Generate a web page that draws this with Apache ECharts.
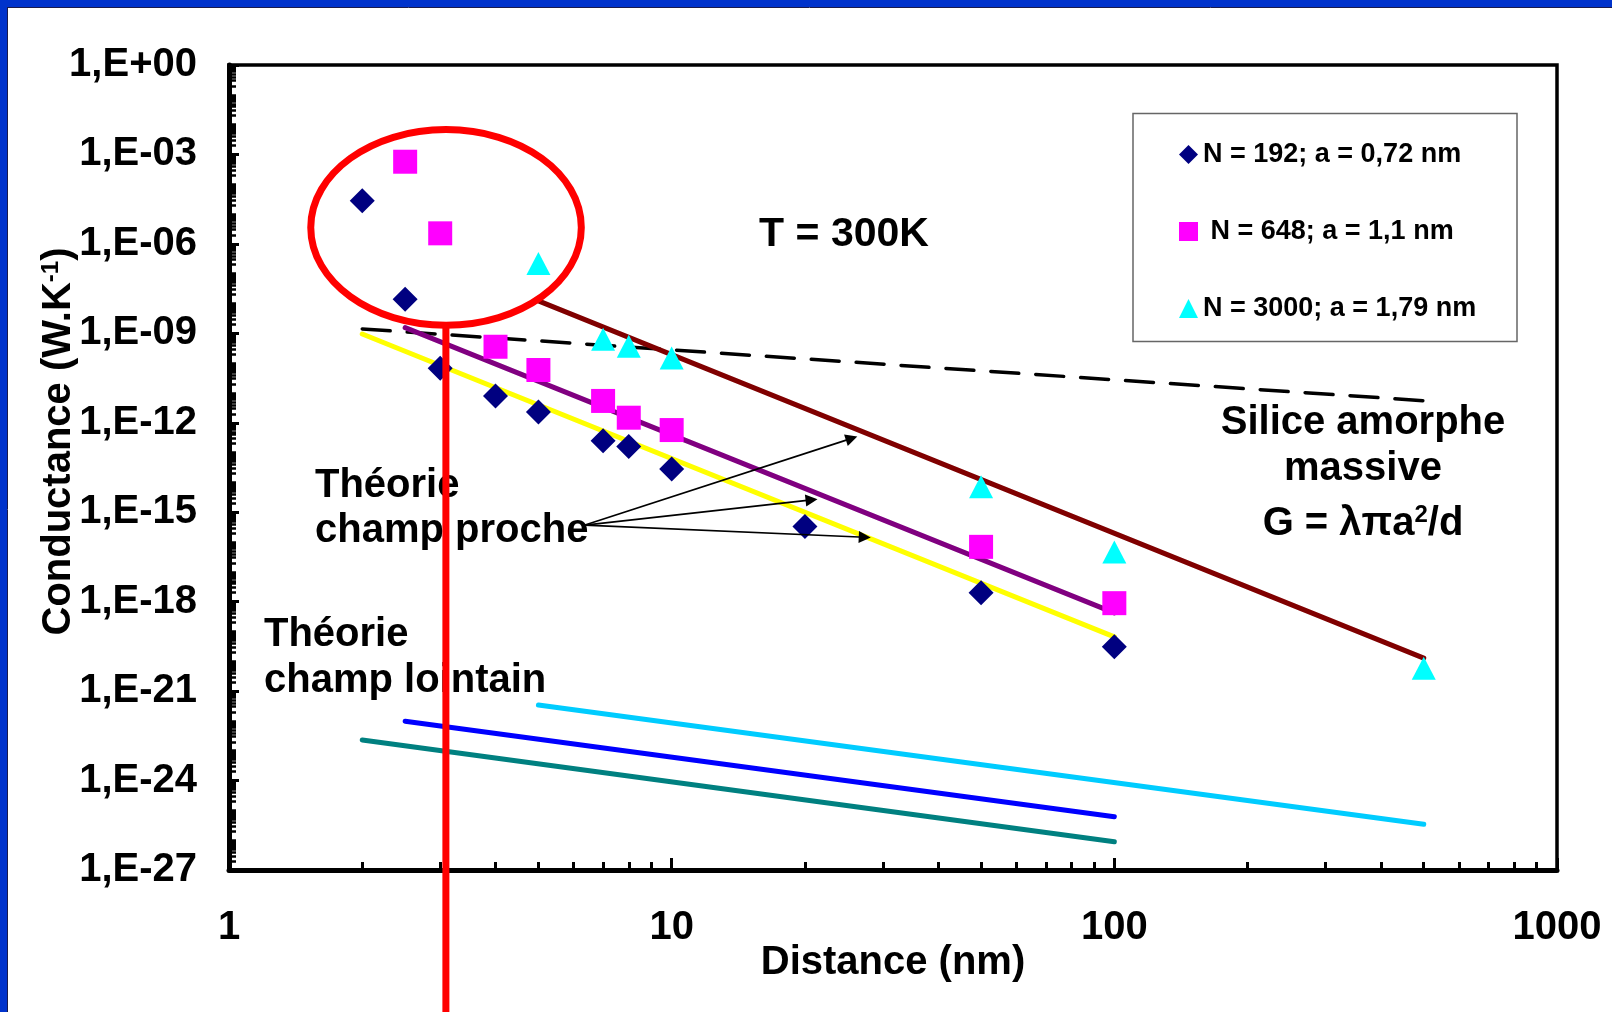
<!DOCTYPE html>
<html><head><meta charset="utf-8">
<script src="https://cdn.jsdelivr.net/npm/echarts@6/dist/echarts.min.js"></script>
<style>html,body{margin:0;padding:0;background:#fff;overflow:hidden}#c{width:1612px;height:1012px}</style>
</head><body><div id="c"></div><script>
// ---------- data ----------
const n192Name = 'N = 192; a = 0,72 nm';
const n192Dist = [2, 2.5, 3, 4, 5, 7, 8, 10, 20, 50, 100];
const n192G    = [2.8e-5, 1.4e-8, 6.7e-11, 7.9e-12, 2.3e-12, 2.5e-13, 1.6e-13, 2.8e-14, 3.3e-16, 2.0e-18, 3.1e-20];

const n648Name = ' N = 648; a = 1,1 nm';
const n648Dist = [2.5, 3, 4, 5, 7, 8, 10, 50, 100];
const n648G    = [5.7e-4, 2.26e-6, 3.55e-10, 5.9e-11, 5.4e-12, 1.48e-12, 5.7e-13, 6.9e-17, 8.9e-19];

const n3000Name = 'N = 3000; a = 1,79 nm';
const n3000Dist = [5, 7, 8, 10, 50, 100, 500];
const n3000G    = [2.2e-7, 6.3e-10, 3.7e-10, 1.5e-10, 7.1e-15, 4.6e-17, 5.9e-21];

// bulk amorphous silica G = lambda*pi*a^2/d (dashed)
const silicaDist = [2, 500];
const silicaG    = [1.4e-9, 5.5e-12];
// near-field theory lines
const nearBrownDist  = [5, 500];   const nearBrownG  = [1.23e-8, 1.28e-20];
const nearPurpleDist = [2.5, 100]; const nearPurpleG = [1.55e-9, 4.2e-19];
const nearYellowDist = [2, 100];   const nearYellowG = [9.5e-10, 6.6e-20];
// far-field theory lines
const farCyanDist = [5, 500];   const farCyanG = [3.4e-22, 3.4e-26];
const farBlueDist = [2.5, 100]; const farBlueG = [9.8e-23, 6.1e-26];
const farTealDist = [2, 100];   const farTealG = [2.3e-23, 8.8e-27];

// annotation arrows: from end of "champ proche" text to the three near-field lines
const arrowFrom = [6.37, 3.7e-16];
const arrowTo   = [[25.5, 3.0e-13], [20.7, 2.6e-15], [27.3, 1.45e-16]];

// red ellipse (data-space bounding box) and vertical marker
const ellipseDist = [1.53, 6.25];
const ellipseG    = [6.8e-3, 1.86e-9];
const markerDist  = 3.09;

// ticks / labels
const xMajor = [1, 10, 100, 1000];
const yMajor = [1, 1e-3, 1e-6, 1e-9, 1e-12, 1e-15, 1e-18, 1e-21, 1e-24, 1e-27];
const xMinor = [];
[1, 10, 100].forEach(b => { for (let k = 2; k <= 9; k++) xMinor.push(b * k); });
const yMinor = [];
for (let e = -27; e < 0; e++) {
  for (let k = 1; k <= 9; k++) {
    if (k === 1 && (-e) % 3 === 0) continue;
    yMinor.push(k * Math.pow(10, e));
  }
}

// ---------- chart ----------
const FONT = '"Liberation Sans", Arial, Helvetica, sans-serif';
const FS = 40;
const chart = echarts.init(document.getElementById('c'), null, {renderer: 'canvas'});

function sci(v) {
  const e = Math.round(Math.log10(v));
  const a = Math.abs(e);
  return '1,E' + (e < 0 ? '-' : '+') + (a < 10 ? '0' : '') + a;
}
function pts(xs, ys) { return xs.map((x, i) => [x, ys[i]]); }
function lineSeries(name, xs, ys, color, width, type) {
  return {
    name: name, type: 'line', data: pts(xs, ys), symbol: 'none', silent: true, z: 2,
    lineStyle: {color: color, width: width, type: type || 'solid', cap: 'round'},
    emphasis: {disabled: true}
  };
}
function scatter(name, xs, ys, symbol, size, color) {
  return {
    name: name, type: 'scatter', data: pts(xs, ys), symbol: symbol, symbolSize: size, z: 4,
    itemStyle: {color: color, opacity: 1}, emphasis: {disabled: true}
  };
}

const silica = lineSeries('silice', silicaDist, silicaG, '#000', 3.5, [28, 17]);
silica.markLine = {
  silent: true, symbol: ['none', 'triangle'], symbolSize: 12, animation: false, z: 5,
  lineStyle: {color: '#000', width: 1.6, type: 'solid'}, label: {show: false},
  emphasis: {disabled: true},
  data: arrowTo.map(t => [{coord: arrowFrom}, {coord: t}])
};

const option = {
  animation: false,
  backgroundColor: '#fff',
  textStyle: {fontFamily: FONT},
  grid: {left: 229, right: 55, top: 65, bottom: 142, show: true, borderColor: '#000', borderWidth: 3.5, backgroundColor: '#fff'},
  legend: {
    data: [n192Name, n648Name, n3000Name],
    orient: 'vertical', left: 1179, top: 141, itemGap: 50, itemWidth: 19, itemHeight: 19, padding: 0,
    textStyle: {fontFamily: FONT, fontWeight: 'bold', fontSize: 27, color: '#000'},
    selectedMode: false
  },
  xAxis: [{
    type: 'log', logBase: 10, min: 1, max: 1000, position: 'bottom',
    axisLine: {lineStyle: {color: '#000', width: 5}},
    axisTick: {inside: true, length: 12, customValues: xMajor, lineStyle: {color: '#000', width: 3}},
    axisLabel: {customValues: xMajor, margin: 38, color: '#000', fontFamily: FONT, fontWeight: 'bold', fontSize: FS, formatter: v => String(Math.round(v))},
    splitLine: {show: false}, minorTick: {show: false},
    name: 'Distance (nm)', nameLocation: 'middle', nameGap: 73, nameMoveOverlap: false,
    nameTextStyle: {fontFamily: FONT, fontWeight: 'bold', fontSize: FS, color: '#000'}
  }, {
    type: 'log', logBase: 10, min: 1, max: 1000, position: 'bottom', offset: 0,
    axisLine: {show: false},
    axisTick: {inside: true, length: 8, customValues: xMinor, lineStyle: {color: '#000', width: 3}},
    axisLabel: {show: false}, splitLine: {show: false}
  }],
  yAxis: [{
    type: 'log', logBase: 10, min: 1e-27, max: 1, position: 'left',
    axisLine: {lineStyle: {color: '#000', width: 5}},
    axisTick: {inside: true, length: 10, customValues: yMajor, lineStyle: {color: '#000', width: 3}},
    axisLabel: {customValues: yMajor, margin: 32, color: '#000', fontFamily: FONT, fontWeight: 'bold', fontSize: FS, formatter: sci},
    splitLine: {show: false},
    name: '{a|Conductance (W.K}{s|-1}{a|)}', nameLocation: 'middle', nameGap: 150, nameRotate: 90, nameMoveOverlap: false,
    nameTextStyle: {
      padding: [0, 0, 0, 52],
      rich: {
        a: {fontFamily: FONT, fontWeight: 'bold', fontSize: FS, color: '#000'},
        s: {fontFamily: FONT, fontWeight: 'bold', fontSize: 24, color: '#000', verticalAlign: 'top'}
      }
    }
  }, {
    type: 'log', logBase: 10, min: 1e-27, max: 1, position: 'left', offset: 0,
    axisLine: {show: false},
    axisTick: {inside: true, length: 7, customValues: yMinor, lineStyle: {color: '#000', width: 2.5}},
    axisLabel: {show: false}, splitLine: {show: false}
  }],
  series: [
    silica,
    lineSeries('brown', nearBrownDist, nearBrownG, '#800000', 5),
    lineSeries('purple', nearPurpleDist, nearPurpleG, '#800080', 5),
    lineSeries('yellow', nearYellowDist, nearYellowG, '#ffff00', 5),
    lineSeries('cyan', farCyanDist, farCyanG, '#00ccff', 5),
    lineSeries('blue', farBlueDist, farBlueG, '#0000ff', 5),
    lineSeries('teal', farTealDist, farTealG, '#008080', 5),
    scatter(n192Name, n192Dist, n192G, 'diamond', 25, '#000080'),
    scatter(n648Name, n648Dist, n648G, 'rect', 24, '#ff00ff'),
    scatter(n3000Name, n3000Dist, n3000G, 'triangle', [24, 23], '#00ffff')
  ]
};
chart.setOption(option);

// ---------- annotations ----------
const px = p => chart.convertToPixel({seriesIndex: 0}, p);
const eTL = px([ellipseDist[0], ellipseG[0]]);
const eBR = px([ellipseDist[1], ellipseG[1]]);
const ecx = (eTL[0] + eBR[0]) / 2, ecy = (eTL[1] + eBR[1]) / 2;
const erx = (eBR[0] - eTL[0]) / 2, ery = (eBR[1] - eTL[1]) / 2;
const mx = px([markerDist, ellipseG[1]])[0];

function txt(text, x, y, align, size) {
  return {type: 'text', z: 50, silent: true,
    style: {text: text, x: x, y: y, align: align || 'left', verticalAlign: 'middle',
      fontFamily: FONT, fontWeight: 'bold', fontSize: size || FS, fill: '#000'}};
}

chart.setOption({
  graphic: [
    {type: 'rect', z: 60, silent: true, shape: {x: 0, y: 0, width: 1612, height: 7}, style: {fill: '#0033cc'}},
    {type: 'rect', z: 60, silent: true, shape: {x: 0, y: 0, width: 7, height: 1012}, style: {fill: '#0033cc'}},
    {type: 'line', z: 60, silent: true, shape: {x1: 7, y1: 7.5, x2: 1612, y2: 7.5}, style: {stroke: '#1a1a4a', lineWidth: 1}},
    {type: 'line', z: 60, silent: true, shape: {x1: 7.5, y1: 7, x2: 7.5, y2: 1012}, style: {stroke: '#1a1a4a', lineWidth: 1}},
    {type: 'rect', z: 40, silent: true, shape: {x: 1133, y: 113.5, width: 384, height: 228}, style: {fill: 'rgba(0,0,0,0)', stroke: '#666', lineWidth: 1.5}},
    txt('T = 300K', 844, 235, 'center', 41),
    txt('Théorie', 315, 486),
    txt('champ proche', 315, 531),
    txt('Théorie', 264, 635),
    txt('champ lointain', 264, 681),
    txt('Silice amorphe', 1363, 423, 'center'),
    txt('massive', 1363, 469, 'center'),
    {type: 'text', z: 50, silent: true,
      style: {text: '{a|G = λπa}{s|2}{a|/d}', x: 1363, y: 524, align: 'center', verticalAlign: 'middle',
        rich: {
          a: {fontFamily: FONT, fontWeight: 'bold', fontSize: FS, fill: '#000', lineHeight: 42},
          s: {fontFamily: FONT, fontWeight: 'bold', fontSize: 24, fill: '#000', verticalAlign: 'top'}
        }}},
    {type: 'ellipse', z: 70, silent: true, shape: {cx: ecx, cy: ecy, rx: erx, ry: ery},
      style: {fill: 'rgba(0,0,0,0)', stroke: '#ff0000', lineWidth: 7}},
    {type: 'line', z: 70, silent: true, shape: {x1: mx, y1: ecy + ery, x2: mx, y2: 1012},
      style: {stroke: '#ff0000', lineWidth: 7}}
  ]
});
</script></body></html>
